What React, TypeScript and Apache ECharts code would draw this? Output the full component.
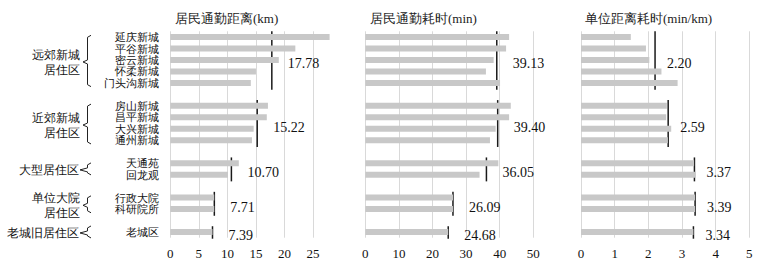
import React, { useEffect, useRef } from "react";
import * as echarts from "echarts";

const groupNames: string[][] = [
  ["远郊新城", "居住区"],
  ["近郊新城", "居住区"],
  ["大型居住区"],
  ["单位大院", "居住区"],
  ["老城旧居住区"],
];
const groupMembers: string[][] = [
  ["延庆新城", "平谷新城", "密云新城", "怀柔新城", "门头沟新城"],
  ["房山新城", "昌平新城", "大兴新城", "通州新城"],
  ["天通苑", "回龙观"],
  ["行政大院", "科研院所"],
  ["老城区"],
];
const distance = [27.9, 21.9, 19.0, 15.0, 14.1, 17.1, 16.9, 14.6, 14.3, 12.0, 10.1, 7.7, 7.7, 7.39];
const time = [42.8, 41.9, 38.2, 35.9, 40.1, 43.3, 42.8, 38.8, 37.1, 39.6, 34.0, 26.1, 26.1, 24.68];
const perKm = [1.48, 1.93, 2.03, 2.39, 2.87, 2.55, 2.53, 2.68, 2.58, 3.36, 3.41, 3.39, 3.39, 3.34];
const distanceMean = [17.78, 15.22, 10.7, 7.71, 7.39];
const timeMean = [39.13, 39.4, 36.05, 26.09, 24.68];
const perKmMean = [2.2, 2.59, 3.37, 3.39, 3.34];
const titles = ["居民通勤距离(km)", "居民通勤耗时(min)", "单位距离耗时(min/km)"];
const axisMax = [30, 60, 5];
const axisInterval = [5, 10, 1];

const SERIF = "Liberation Serif";

export default function App() {
  const ref = useRef<HTMLDivElement>(null);
  useEffect(() => {
    if (!ref.current) return;
    const chart = echarts.init(ref.current, undefined, { renderer: "svg" });

    const slots: string[] = [];
    const ranges: [number, number][] = [];
    const memberIdx: number[] = [];
    groupMembers.forEach((g, gi) => {
      const start = slots.length;
      g.forEach((m) => {
        slots.push(m);
        memberIdx.push(slots.length - 1);
      });
      ranges.push([start, slots.length - 1]);
      if (gi < groupMembers.length - 1) slots.push(" ".repeat(gi + 1));
    });
    const toSlots = (vals: number[]) => {
      const arr: (number | string)[] = slots.map(() => "-");
      vals.forEach((v, i) => (arr[memberIdx[i]] = v));
      return arr;
    };

    const lefts = [170.3, 365.3, 581];
    const widths = [171.3, 201.6, 168.3];
    const titleX = [175, 370, 585];
    const labelOffset = [16, 16, 12];
    const values = [distance, time, perKm];
    const means = [distanceMean, timeMean, perKmMean];
    const TOP = 31.3;
    const HEIGHT = 206.4;

    const grid = lefts.map((l, i) => ({ left: l, top: TOP, width: widths[i], height: HEIGHT }));
    const xAxis = lefts.map((_, i) => ({
      type: "value",
      gridIndex: i,
      min: 0,
      max: axisMax[i],
      interval: axisInterval[i],
      axisLine: { show: false },
      axisTick: { show: false },
      splitLine: { show: true, showMaxLine: i === 2, lineStyle: { color: "#d9d9d9", width: 1 } },
      axisLabel: {
        show: true,
        showMaxLabel: i === 2,
        margin: 9,
        fontSize: 13,
        color: "#111",
        fontFamily: SERIF,
      },
    }));
    const yAxis = lefts.map((_, i) => ({
      type: "category",
      gridIndex: i,
      inverse: true,
      data: slots,
      axisLine: { show: false },
      axisTick: { show: false },
      splitLine: { show: false },
      axisLabel: {
        show: i === 0,
        margin: 11,
        fontSize: 11.4,
        lineHeight: 11.4,
        color: "#111",
        fontFamily: SERIF,
        interval: 0,
      },
    }));

    const series: any[] = [];
    values.forEach((vals, i) => {
      series.push({
        type: "bar",
        xAxisIndex: i,
        yAxisIndex: i,
        data: toSlots(vals),
        barWidth: 6,
        itemStyle: { color: "#c8c8c8" },
        silent: true,
      });
      const meanArr = means[i];
      series.push({
        type: "custom",
        xAxisIndex: i,
        yAxisIndex: i,
        clip: false,
        silent: true,
        encode: { x: 0, y: 1 },
        data: meanArr.map((m, gi) => [m, ranges[gi][0], ranges[gi][1]]),
        renderItem: (params: any, api: any) => {
          const v = api.value(0);
          const s = api.value(1);
          const e = api.value(2);
          const p1 = api.coord([v, s]);
          const p2 = api.coord([v, e]);
          const band = api.size([0, 1])[1];
          const y1 = p1[1] - band / 2;
          const y2 = p2[1] + band / 2 + 1;
          return {
            type: "group",
            children: [
              {
                type: "line",
                shape: { x1: p1[0], y1, x2: p1[0], y2 },
                style: { stroke: "#1a1a1a", lineWidth: 1.5 },
              },
              {
                type: "text",
                x: p1[0] + labelOffset[i],
                y: (p1[1] + p2[1]) / 2 + 4,
                style: {
                  text: meanArr[params.dataIndex].toFixed(2),
                  fontSize: 14,
                  fontFamily: SERIF,
                  fill: "#111",
                  align: "left",
                  verticalAlign: "middle",
                },
              },
            ],
          };
        },
      });
    });

    const title = titles.map((t, i) => ({
      text: t,
      left: titleX[i],
      top: 12,
      padding: 0,
      textStyle: { fontSize: 13, fontWeight: "normal", color: "#222", fontFamily: SERIF },
    }));

    chart.setOption({ animation: false, title, grid, xAxis, yAxis, series });

    const rowY = (r: number) => (chart.convertToPixel({ gridIndex: 0 }, [0, r]) as number[])[1];
    const band = rowY(1) - rowY(0);
    const graphic: any[] = [];
    groupNames.forEach((names, gi) => {
      const [s, e] = ranges[gi];
      const top = rowY(s) - band / 2;
      const bottom = rowY(e) + band / 2;
      const center = (top + bottom) / 2;
      const single = names.length === 1;
      const bTop = single ? center - 6 : top + 4;
      const bBot = single ? center + 6 : bottom - 2;
      const mid = single ? center + 1 : center + 2;
      graphic.push({
        type: "polyline",
        shape: {
          points: [
            [91, bTop],
            [87.5, bTop + 2],
            [87.5, mid - 2],
            [single ? 80 : 83, mid],
            [87.5, mid + 2],
            [87.5, bBot - 2],
            [91, bBot],
          ],
        },
        style: { stroke: "#222", lineWidth: 1, fill: null },
      });
      const lines = single ? [center + 1] : [center - 5, center + 10];
      names.forEach((n, li) => {
        graphic.push({
          type: "text",
          x: single ? 79 : 80,
          y: lines[li],
          style: {
            text: n,
            fontSize: 12,
            fontFamily: SERIF,
            fill: "#111",
            align: "right",
            verticalAlign: "middle",
          },
        });
      });
    });
    chart.setOption({ graphic });

    return () => chart.dispose();
  }, []);
  return (
    <div
      ref={ref}
      style={{ position: "fixed", left: 0, top: 0, width: 765, height: 265, background: "#fff" }}
    />
  );
}
